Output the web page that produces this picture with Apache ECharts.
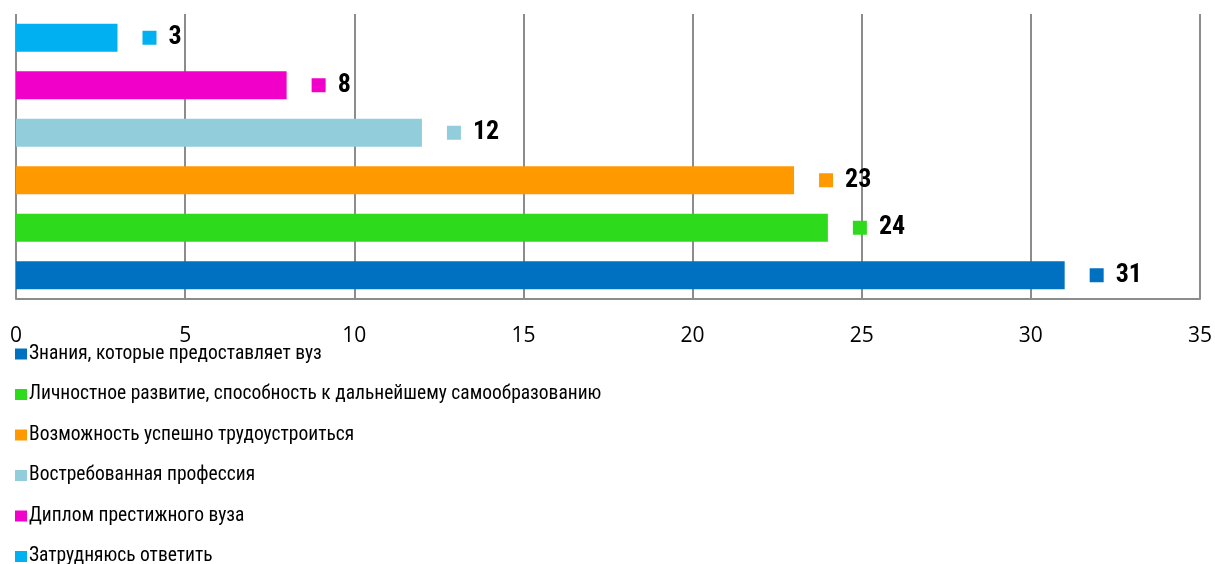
<!DOCTYPE html>
<html>
<head>
<meta charset="utf-8">
<script src="https://cdn.jsdelivr.net/npm/echarts@6/dist/echarts.min.js"></script>
<style>html,body{margin:0;padding:0;background:#fff}#c{width:1215px;height:564px}</style>
</head>
<body>
<div id="c"></div>
<script>
// categories listed bottom-to-top (same as legend order)
const categories = [
  'Знания, которые предоставляет вуз',
  'Личностное развитие, способность к дальнейшему самообразованию',
  'Возможность успешно трудоустроиться',
  'Востребованная профессия',
  'Диплом престижного вуза',
  'Затрудняюсь ответить'
];
const values = [31, 24, 23, 12, 8, 3];
const colors = ['#0070C0', '#2EDB1C', '#FF9900', '#92CDDC', '#F000C8', '#00B0F0'];
const xTicks = { min: 0, max: 35, interval: 5 };

const narrow = '"Liberation Sans Narrow", "Arial Narrow", "Roboto Condensed", "Liberation Sans", sans-serif';

const series = categories.map((name, i) => ({
  name: name,
  type: 'bar',
  stack: 'total',
  barWidth: '59%',
  itemStyle: { color: colors[i] },
  data: categories.map((c, j) => (j === i ? values[i] : '-')),
  label: {
    show: true,
    position: 'right',
    distance: 25,
    formatter: p => '{sq| }{gap| }{num|' + p.value + '}',
    rich: {
      sq: { width: 14, height: 14, backgroundColor: colors[i] },
      gap: { width: 12 },
      num: { fontSize: 26, fontWeight: 'bold', color: '#000', fontFamily: narrow }
    }
  }
}));

const chart = echarts.init(document.getElementById('c'));
chart.setOption({
  animation: false,
  grid: { left: 16, right: 15, top: 14, bottom: 265, containLabel: false },
  legend: {
    orient: 'vertical',
    left: 10,
    top: 339,
    height: 230,
    itemWidth: 12,
    itemHeight: 11,
    itemGap: 20.5,
    icon: 'rect',
    data: categories,
    textStyle: { fontSize: 19.5, color: '#000', fontFamily: narrow, padding: [0, 0, 0, -3] }
  },
  xAxis: {
    type: 'value',
    min: xTicks.min,
    max: xTicks.max,
    interval: xTicks.interval,
    axisLine: { show: true, lineStyle: { color: '#8c8c8c', width: 2 } },
    axisTick: { show: false },
    splitLine: { show: true, lineStyle: { color: '#8c8c8c', width: 2 } },
    axisLabel: { fontSize: 21, color: '#000', fontFamily: '"Open Sans", sans-serif', margin: 27 }
  },
  yAxis: {
    type: 'category',
    data: categories,
    axisLine: { show: false },
    axisTick: { show: false },
    axisLabel: { show: false },
    splitLine: { show: false }
  },
  series: series
});
</script>
</body>
</html>
